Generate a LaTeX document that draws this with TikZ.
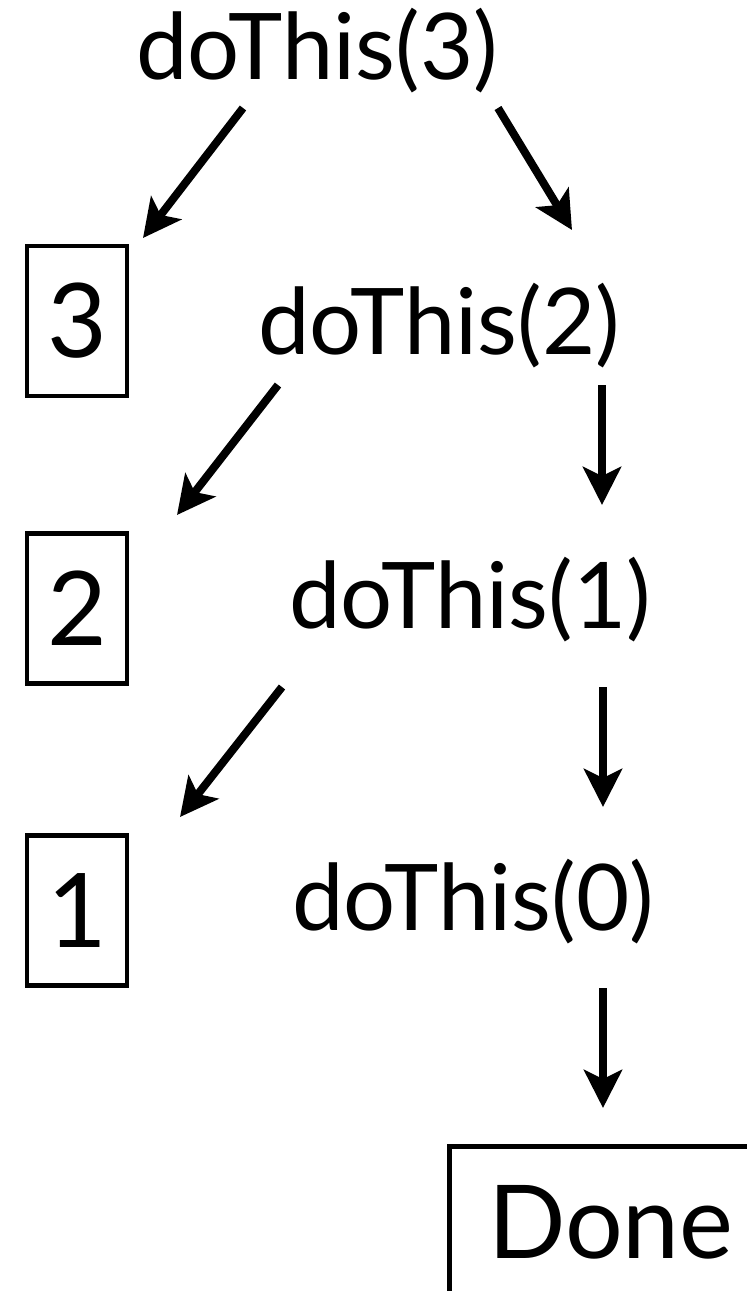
\documentclass[tikz,border=0pt]{standalone}
\usepackage{fontspec}
\setmainfont{Lato}
\usetikzlibrary{arrows.meta}
\begin{document}
\begin{tikzpicture}[x=1pt,y=-1pt,
  call/.style={font=\fontsize{92}{92}\selectfont, inner sep=0pt, anchor=base west},
  val/.style={draw, line width=4.5pt, minimum width=100pt, minimum height=150pt, inner sep=0pt, font=\fontsize{103}{103}\selectfont},
  arr/.style={line width=8pt, -{Stealth[length=38pt,width=38pt,inset=9pt]}}]
\useasboundingbox (0,0) rectangle (747,1291);
\clip (0,0) rectangle (747,1291);
% calls
\node[call] (d3) at (136,79) {doThis(3)};
\node[call] (d2) at (258,354) {doThis(2)};
\node[call] (d1) at (289,628) {doThis(1)};
\node[call] (d0) at (292,930) {doThis(0)};
% printed values
\node[val] (v3) at (77,321) {3};
\node[val] (v2) at (77,608.5) {2};
\node[val] (v1) at (77,910.5) {1};
% done
\node[font=\fontsize{102}{102}\selectfont, inner sep=0pt, anchor=base west] (done) at (488,1258) {Done};
\coordinate (dbl) at (449,1400);
\coordinate (dtr) at (900,1146);
\draw[line width=5pt] (dbl) |- (dtr);
% arrow end points
\coordinate (a1s) at (243,108); \coordinate (a1e) at (143,238);
\coordinate (a2s) at (498,108); \coordinate (a2e) at (572,230);
\coordinate (a3s) at (278,385); \coordinate (a3e) at (177,515);
\coordinate (a4s) at (602,385); \coordinate (a4e) at (602,505);
\coordinate (a5s) at (282,687); \coordinate (a5e) at (180,817);
\coordinate (a6s) at (603,687); \coordinate (a6e) at (603,807);
\coordinate (a7s) at (603,988); \coordinate (a7e) at (603,1108);
\draw[arr] (a1s) -- (a1e);
\draw[arr] (a2s) -- (a2e);
\draw[arr] (a3s) -- (a3e);
\draw[arr] (a4s) -- (a4e);
\draw[arr] (a5s) -- (a5e);
\draw[arr] (a6s) -- (a6e);
\draw[arr] (a7s) -- (a7e);
\end{tikzpicture}
\end{document}
